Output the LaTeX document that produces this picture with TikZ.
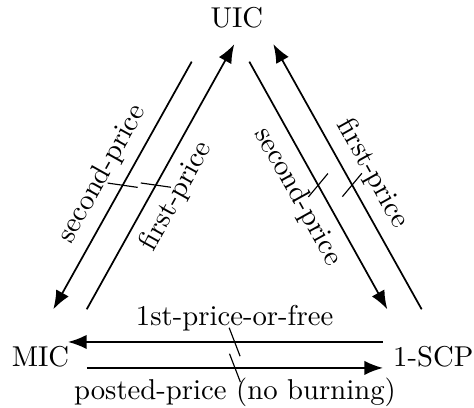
\documentclass[tikz,border=0pt]{standalone}
\usetikzlibrary{arrows.meta,decorations.markings}

\tikzset{
  arr/.style={semithick, -{Latex[length=6.5pt,width=5pt]}},
  negated/.style={postaction={decorate}, decoration={markings,
      mark=at position #1 with {\draw[thin,-] (111:5.3pt) -- (111:-5.3pt);}}},
}

\begin{document}
\begin{tikzpicture}
  \useasboundingbox (-0.496,-0.628) rectangle (5.309,4.368);

  \node (uic) at (2.405,4.154) {UIC};
  \node (mic) at (0,0) {MIC};
  \node (scp) at (4.81,0) {1-SCP};

  % UIC and MIC
  \draw[arr, negated=0.5] ([shift={(-0.553,-0.541)}]uic.center) -- ([shift={(0.157,0.58)}]mic.center)
    node[pos=0.5, sloped, above] {second-price};
  \draw[arr, negated=0.469] ([shift={(0.566,0.58)}]mic.center) -- ([shift={(-0.032,-0.328)}]uic.center)
    node[pos=0.469, sloped, below] {first-price};

  % UIC and 1-SCP
  \draw[arr, negated=0.5] ([shift={(0.152,-0.541)}]uic.center) -- ([shift={(-0.563,0.58)}]scp.center)
    node[pos=0.5, sloped, below] {second-price};
  \draw[arr, negated=0.469] ([shift={(-0.142,0.58)}]scp.center) -- ([shift={(0.446,-0.325)}]uic.center)
    node[pos=0.469, sloped, above] {first-price};

  % MIC and 1-SCP
  \draw[arr, negated=0.471] ([shift={(-0.616,0.18)}]scp.center) -- ([shift={(0.337,0.18)}]mic.center)
    node[pos=0.471, above] {1st-price-or-free};
  \draw[arr, negated=0.5] ([shift={(0.569,-0.138)}]mic.center) -- ([shift={(-0.616,-0.138)}]scp.center)
    node[pos=0.5, below] {posted-price (no burning)};
\end{tikzpicture}
\end{document}
